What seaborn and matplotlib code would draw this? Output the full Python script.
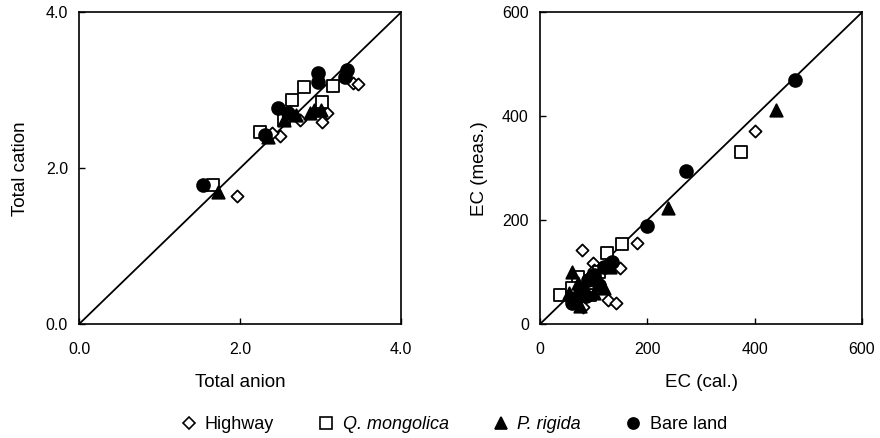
import matplotlib
matplotlib.use('Agg')
import matplotlib.pyplot as plt
from matplotlib.lines import Line2D
import numpy as np
import pandas as pd
import seaborn as sns

# left panel: total anion (x) vs total cation (y)
hw_anion = [1.96, 2.50, 2.75, 3.02, 3.08, 3.40, 3.47, 2.40]
hw_cation = [1.64, 2.41, 2.62, 2.59, 2.71, 3.09, 3.08, 2.45]
qm_anion = [1.66, 2.25, 2.65, 3.02, 2.80, 3.16, 2.55]
qm_cation = [1.78, 2.46, 2.87, 2.85, 3.04, 3.06, 2.62]
pr_anion = [1.73, 2.35, 2.55, 2.70, 2.87, 3.00, 2.62, 2.92]
pr_cation = [1.69, 2.40, 2.62, 2.68, 2.71, 2.75, 2.72, 2.74]
bl_anion = [1.54, 2.31, 2.47, 2.60, 2.97, 2.97, 3.33, 3.30]
bl_cation = [1.78, 2.42, 2.77, 2.71, 3.22, 3.10, 3.26, 3.17]

# right panel: EC calculated (x) vs EC measured (y)
hw_cal = [78, 99, 149, 80, 127, 142, 181, 401, 70, 100]
hw_meas = [142, 117, 108, 33, 46, 40, 156, 371, 60, 105]
qm_cal = [37, 93, 125, 153, 375, 70, 100, 60, 110]
qm_meas = [56, 56, 137, 154, 331, 90, 80, 70, 100]
pr_cal = [60, 55, 65, 70, 80, 90, 110, 120, 130, 75, 100, 239, 440]
pr_meas = [100, 60, 45, 80, 70, 90, 85, 70, 110, 35, 60, 223, 412]
bl_cal = [65, 75, 90, 100, 120, 135, 85, 110, 60, 199, 272, 475]
bl_meas = [50, 70, 85, 95, 110, 120, 55, 75, 40, 188, 294, 470]

groups = ['Highway', 'Q. mongolica', 'P. rigida', 'Bare land']
markers = {'Highway': 'D', 'Q. mongolica': 's', 'P. rigida': '^', 'Bare land': 'o'}
hollow = {'Highway': True, 'Q. mongolica': True, 'P. rigida': False, 'Bare land': False}
sizes = {'Highway': 38, 'Q. mongolica': 75, 'P. rigida': 80, 'Bare land': 85}


def build(xs, ys):
    rows = []
    for g, x, y in zip(groups, xs, ys):
        for a, b in zip(x, y):
            rows.append({'group': g, 'x': a, 'y': b})
    return pd.DataFrame(rows)


left_df = build([hw_anion, qm_anion, pr_anion, bl_anion],
                [hw_cation, qm_cation, pr_cation, bl_cation])
right_df = build([hw_cal, qm_cal, pr_cal, bl_cal],
                 [hw_meas, qm_meas, pr_meas, bl_meas])

sns.set_style('ticks')
plt.rcParams['font.family'] = ['Liberation Sans', 'DejaVu Sans']
plt.rcParams['text.color'] = 'black'
plt.rcParams['axes.labelcolor'] = 'black'

fig = plt.figure(figsize=(8.8, 4.38), dpi=100)
ax1 = fig.add_axes([0.0898, 0.260, 0.366, 0.712])
ax2 = fig.add_axes([0.6136, 0.260, 0.366, 0.712])


def draw(ax, df):
    for g in groups:
        sub = df[df['group'] == g]
        sns.scatterplot(data=sub, x='x', y='y', ax=ax, marker=markers[g],
                        s=sizes[g], facecolor='white' if hollow[g] else 'black',
                        edgecolor='black', linewidth=1.3, zorder=3)
    ax.axline((0, 0), slope=1, color='black', lw=1.3, zorder=2)
    for sp in ax.spines.values():
        sp.set_visible(True)
        sp.set_linewidth(1.2)
        sp.set_color('black')
    ax.tick_params(direction='in', length=4, width=1, labelsize=11.5,
                   colors='black')
    ax.tick_params(axis='x', pad=13)
    ax.tick_params(axis='y', pad=8)


draw(ax1, left_df)
ax1.set_xlim(0, 4)
ax1.set_ylim(0, 4)
ax1.set_xticks([0, 2, 4])
ax1.set_yticks([0, 2, 4])
ax1.set_xticklabels(['0.0', '2.0', '4.0'])
ax1.set_yticklabels(['0.0', '2.0', '4.0'])
ax1.set_xlabel('Total anion', fontsize=13.5, labelpad=12)
ax1.set_ylabel('Total cation', fontsize=13.5, labelpad=12)

draw(ax2, right_df)
ax2.set_xlim(0, 600)
ax2.set_ylim(0, 600)
ax2.set_xticks([0, 200, 400, 600])
ax2.set_yticks([0, 200, 400, 600])
ax2.set_xlabel('EC (cal.)', fontsize=13.5, labelpad=12)
ax2.set_ylabel('EC (meas.)', fontsize=13.5, labelpad=10)

handles = [Line2D([], [], linestyle='none', marker=markers[g],
                  markersize=6 if g == 'Highway' else 8,
                  markerfacecolor='white' if hollow[g] else 'black',
                  markeredgecolor='black', markeredgewidth=1.2)
           for g in groups]
leg = fig.legend(handles, groups, loc='center', bbox_to_anchor=(0.515, 0.03),
                 ncol=4, frameon=False, fontsize=13, handlelength=1,
                 handletextpad=0.4, columnspacing=2.4)
for i in (1, 2):
    leg.get_texts()[i].set_fontstyle('italic')

fig.savefig('out.png', dpi=100)
